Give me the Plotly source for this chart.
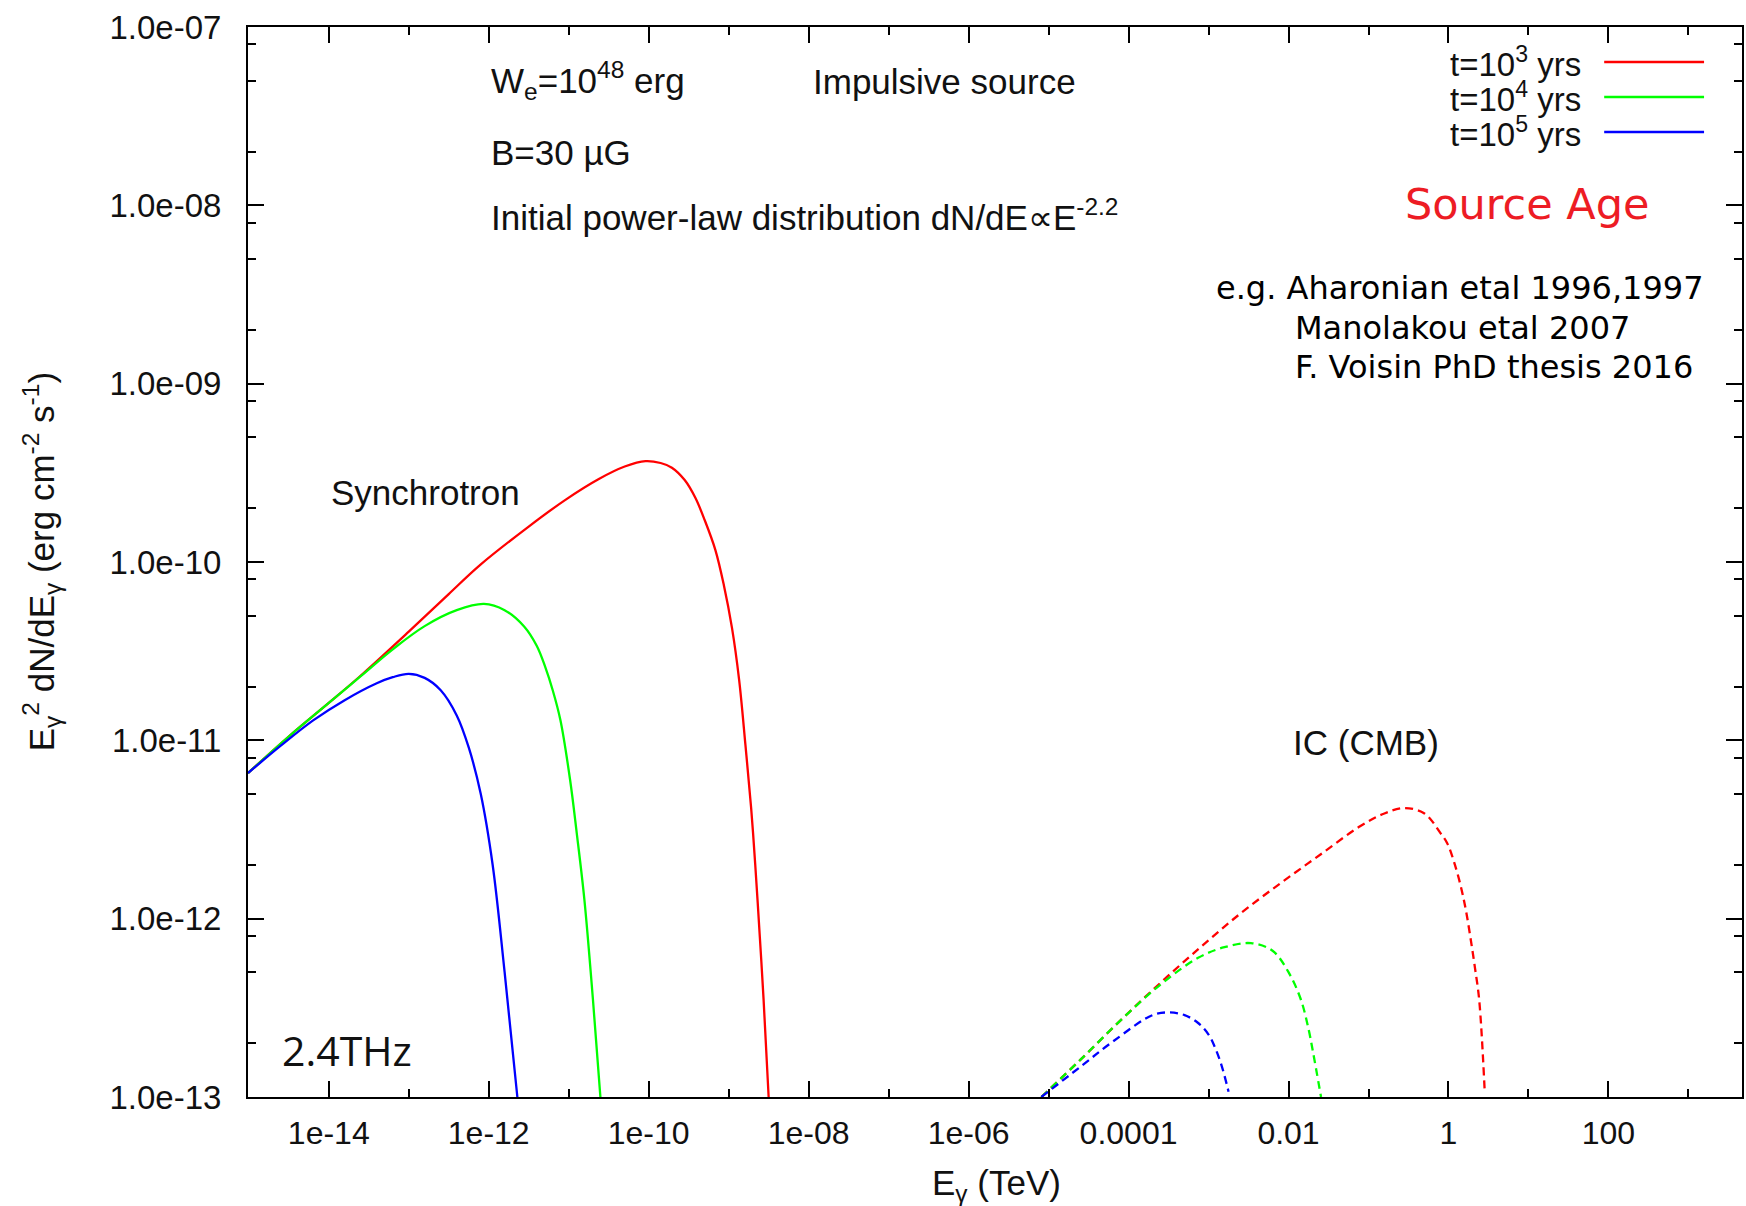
import plotly.graph_objects as go

# ---------------- data ----------------
# Synchrotron (solid lines)
sync_red_E = [9.77e-16, 3.16e-15, 1.0e-14, 2.44e-14, 1.0e-13, 3.16e-13, 7.83e-13, 3.16e-12,
              8.81e-12, 2.38e-11, 5.01e-11, 9.12e-11, 1.41e-10, 1.95e-10, 2.82e-10, 3.83e-10,
              5.01e-10, 6.81e-10, 8.71e-10, 1.10e-9, 1.35e-9, 1.62e-9, 1.91e-9, 2.15e-9,
              2.45e-9, 2.73e-9, 3.16e-9]
sync_red_F = [6.55e-12, 1.05e-11, 1.62e-11, 2.28e-11, 4.07e-11, 6.61e-11, 9.64e-11, 1.58e-10,
              2.21e-10, 2.92e-10, 3.43e-10, 3.68e-10, 3.59e-10, 3.38e-10, 2.88e-10, 2.29e-10,
              1.72e-10, 1.17e-10, 7.41e-11, 4.27e-11, 2.19e-11, 9.42e-12, 4.17e-12, 2.0e-12,
              7.94e-13, 3.55e-13, 1.0e-13]

sync_green_E = [9.77e-16, 3.16e-15, 1.0e-14, 2.51e-14, 6.31e-14, 1.58e-13, 3.98e-13, 8.71e-13,
                1.58e-12, 2.77e-12, 3.98e-12, 5.07e-12, 6.31e-12, 7.87e-12, 1.04e-11, 1.26e-11,
                1.57e-11, 2.01e-11, 2.49e-11]
sync_green_F = [6.55e-12, 1.05e-11, 1.62e-11, 2.29e-11, 3.24e-11, 4.37e-11, 5.37e-11, 5.82e-11,
                5.37e-11, 4.35e-11, 3.39e-11, 2.59e-11, 1.91e-11, 1.30e-11, 6.01e-12, 3.02e-12,
                1.28e-12, 3.51e-13, 1.0e-13]

sync_blue_E = [9.77e-16, 2.51e-15, 6.31e-15, 1.58e-14, 3.98e-14, 6.31e-14, 1.0e-13, 1.58e-13,
               2.51e-13, 3.98e-13, 5.62e-13, 7.94e-13, 1.12e-12, 1.58e-12, 2.28e-12]
sync_blue_F = [6.55e-12, 9.33e-12, 1.29e-11, 1.68e-11, 2.09e-11, 2.26e-11, 2.36e-11, 2.24e-11,
               1.91e-11, 1.38e-11, 9.12e-12, 5.01e-12, 2.0e-12, 5.01e-13, 1.0e-13]

# Inverse Compton on the CMB (dashed lines)
ic_red_E = [8.13e-6, 2.51e-5, 7.94e-5, 2.51e-4, 7.94e-4, 2.51e-3, 7.94e-3, 2.51e-2, 7.94e-2,
            0.158, 0.280, 0.501, 0.794, 0.964, 1.17, 1.43, 1.66, 1.90, 2.15, 2.42, 2.84]
ic_red_F = [1.0e-13, 1.62e-13, 2.69e-13, 4.37e-13, 6.92e-13, 1.07e-12, 1.58e-12, 2.29e-12,
            3.31e-12, 3.89e-12, 4.17e-12, 3.89e-12, 3.02e-12, 2.65e-12, 2.09e-12, 1.51e-12,
            1.10e-12, 7.62e-13, 5.25e-13, 3.51e-13, 1.07e-13]

ic_green_E = [8.13e-6, 2.51e-5, 7.94e-5, 2.51e-4, 7.41e-4, 1.58e-3, 3.40e-3, 6.31e-3, 1.0e-2,
              1.43e-2, 1.78e-2, 2.00e-2, 2.55e-2]
ic_green_F = [1.0e-13, 1.62e-13, 2.69e-13, 4.27e-13, 6.03e-13, 6.92e-13, 7.29e-13, 6.61e-13,
              5.01e-13, 3.51e-13, 2.40e-13, 1.84e-13, 1.0e-13]

ic_blue_E = [8.13e-6, 2.51e-5, 6.31e-5, 2.00e-4, 3.26e-4, 5.01e-4, 7.41e-4, 1.0e-3, 1.19e-3,
             1.45e-3, 1.78e-3]
ic_blue_F = [1.0e-13, 1.48e-13, 2.04e-13, 2.88e-13, 2.98e-13, 2.88e-13, 2.60e-13, 2.24e-13,
             1.92e-13, 1.51e-13, 1.07e-13]

ages = ["t=10<sup>3</sup> yrs", "t=10<sup>4</sup> yrs", "t=10<sup>5</sup> yrs"]
colors = ["#ff0000", "#00ff00", "#0000ff"]

x_tickvals = [1e-14, 1e-12, 1e-10, 1e-8, 1e-6, 1e-4, 1e-2, 1, 100]
x_ticktext = ["1e-14", "1e-12", "1e-10", "1e-08", "1e-06", "0.0001", "0.01", "1", "100"]
x_minor = [1e-15, 1e-13, 1e-11, 1e-9, 1e-7, 1e-5, 1e-3, 1e-1, 10, 1000]
y_tickvals = [1e-13, 1e-12, 1e-11, 1e-10, 1e-9, 1e-8, 1e-7]
y_ticktext = ["1.0e-13", "1.0e-12", "1.0e-11", "1.0e-10", "1.0e-09", "1.0e-08", "1.0e-07"]
y_minor_mult = [2, 5, 8]
y_minor = [m * 10.0 ** e for e in range(-13, -7) for m in y_minor_mult] + [8e-14]

# ---------------- figure ----------------
W, H = 1746, 1206
L, R, T, B = 248, 2, 27, 109
PW, PH = W - L - R, H - T - B
BOT = H - B


def px(x):
    return (x - L) / PW


def py(y):
    return (BOT - y) / PH


fig = go.Figure()
sync = [(sync_red_E, sync_red_F), (sync_green_E, sync_green_F), (sync_blue_E, sync_blue_F)]
ic = [(ic_red_E, ic_red_F), (ic_green_E, ic_green_F), (ic_blue_E, ic_blue_F)]
for (xe, yf), c, name in zip(sync, colors, ages):
    fig.add_trace(go.Scatter(x=xe, y=yf, mode="lines", name=name, showlegend=False,
                             line=dict(color=c, width=2.3, shape="spline", smoothing=1.0)))
for (xe, yf), c, name in zip(ic, colors, ages):
    fig.add_trace(go.Scatter(x=xe, y=yf, mode="lines", name=name, showlegend=False,
                             line=dict(color=c, width=2.3, dash="8px,5px", shape="spline",
                                       smoothing=1.0)))

axis_common = dict(type="log", showline=True, linecolor="black", linewidth=2, mirror="allticks",
                   ticks="inside", ticklen=16, tickwidth=2, tickcolor="black", showgrid=False,
                   zeroline=False, tickmode="array")

fig.update_xaxes(**axis_common, range=[-15.01, 3.67], tickvals=x_tickvals, ticktext=x_ticktext,
                 ticklabelstandoff=7,
                 tickfont=dict(family="Liberation Sans, Arial", size=32, color="#111111"),
                 minor=dict(tickmode="array", tickvals=x_minor, ticks="inside", ticklen=8,
                            tickwidth=2, tickcolor="black", showgrid=False))
fig.update_yaxes(**axis_common, range=[-13, -7], tickvals=y_tickvals, ticktext=y_ticktext,
                 ticklabelstandoff=18,
                 tickfont=dict(family="Liberation Sans, Arial", size=33, color="#111111"),
                 minor=dict(tickmode="array", tickvals=y_minor, ticks="inside", ticklen=8,
                            tickwidth=2, tickcolor="black", showgrid=False))

ARIAL = "Liberation Sans, Arial"
VERD = "DejaVu Sans, Verdana"
annots = []


def txt(text, x, y, size=35, family=ARIAL, color="#111111", xanchor="left", angle=0):
    annots.append(dict(text=text, x=px(x), y=py(y), xref="paper", yref="paper",
                       xanchor=xanchor, yanchor="middle", showarrow=False, textangle=angle,
                       font=dict(family=family, size=size, color=color)))


txt("W<sub>e</sub>=10<sup>48</sup> erg", 489, 80)
txt("Impulsive source", 812, 82)
txt("B=30 \u00b5G", 489, 153)
txt("Initial power-law distribution dN/dE\u221dE<sup>-2.2</sup>", 489, 215)
txt("Synchrotron", 329, 492)
txt("IC (CMB)", 1292, 742)
txt("2.4THz", 280, 1050, size=41, family="Open Sans")
txt("Source Age", 1405, 204, size=43, family=VERD, color="#ed1c24")
txt("e.g. Aharonian etal 1996,1997", 1708, 288, size=32, family=VERD, color="black", xanchor="right")
txt("Manolakou etal 2007", 1294, 328, size=32, family=VERD, color="black")
txt("F. Voisin PhD thesis 2016", 1294, 367, size=32, family=VERD, color="black")

# legend (gnuplot style: text then line sample)
shapes = []
for i, (name, c) in enumerate(zip(ages, colors)):
    yc = 62 + 35 * i
    txt(name, 1585, yc, size=33, xanchor="right")
    shapes.append(dict(type="line", xref="paper", yref="paper", x0=px(1606), x1=px(1706),
                       y0=py(yc), y1=py(yc), line=dict(color=c, width=2.5)))

# axis titles
txt("E<sub>\u03b3</sub> (TeV)", 998, 1185, xanchor="center")
txt("E<sub>\u03b3</sub><sup>2</sup> dN/dE<sub>\u03b3</sub> (erg cm<sup>-2</sup> s<sup>-1</sup>)",
    41, 562, xanchor="center", angle=-90)

fig.update_layout(width=W, height=H, margin=dict(l=L, r=R, t=T, b=B, pad=0),
                  plot_bgcolor="white", paper_bgcolor="white", showlegend=False,
                  annotations=annots, shapes=shapes)

fig.write_html("out.html")
